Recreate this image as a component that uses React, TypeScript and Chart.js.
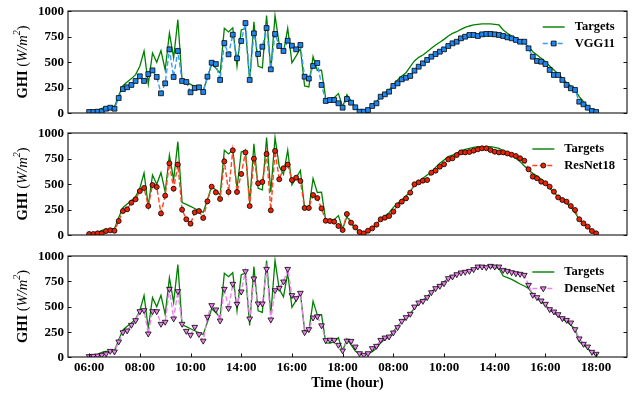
import React, { useEffect, useRef } from "react";
import { Chart, registerables } from "chart.js";

Chart.register(...registerables);

// ---------- data ----------
const tickIndex = [0, 12, 24, 36, 48, 60, 72, 84, 96, 108, 120];
const tickLabels = ["06:00", "08:00", "10:00", "14:00", "16:00", "18:00", "08:00", "10:00", "14:00", "16:00", "18:00"];
const yTicks = [0, 250, 500, 750, 1000];

// shared targets, first day (index 0..63)
const targetsDay1 = [
  5, 10, 25, 45, 55, 58, 62, 172, 268, 304,
  337, 376, 458, 608, 285, 588, 497, 611, 422, 784,
  540, 915, 318, 300, 280, 260, 240, 222, 345, 478,
  440, 390, 830, 795, 835, 458, 815, 830, 312, 895,
  458, 442, 955, 420, 955, 670, 595, 832, 492, 560,
  632, 265, 255, 553, 417, 420, 140, 137, 150, 190,
  60, 180, 120, 60,
];

// targets second day (index 64..120) per panel
const targetsDay2Vgg = [
  13, 13, 36, 69, 111, 160, 199, 225, 275, 324,
  363, 395, 454, 510, 546, 569, 601, 634, 667, 693,
  722, 755, 781, 797, 820, 840, 853, 863, 869, 873,
  873, 873, 869, 863, 814, 781, 755, 732, 709, 683,
  650, 601, 569, 536, 503, 461, 422, 382, 340, 297,
  265, 226, 160, 111, 62, 23, 7,
];
const targetsDay2Res = [
  39, 16, 33, 65, 108, 154, 186, 219, 271, 310,
  343, 382, 425, 490, 523, 556, 588, 621, 663, 703,
  735, 768, 784, 801, 827, 840, 850, 859, 866, 866,
  866, 866, 859, 850, 827, 807, 784, 752, 719, 676,
  637, 605, 578, 546, 507, 458, 415, 376, 343, 310,
  271, 219, 154, 114, 75, 33, 16,
];
const targetsDay2Dense = [
  30, 20, 30, 53, 86, 142, 175, 201, 251, 307,
  350, 383, 432, 482, 531, 564, 597, 647, 680, 713,
  746, 779, 795, 822, 835, 848, 855, 868, 888, 894,
  894, 894, 888, 878, 802, 785, 769, 746, 723, 703,
  680, 624, 581, 548, 515, 465, 439, 406, 373, 350,
  317, 274, 152, 119, 86, 43, 20,
];

const vgg11 = [
  10, 10, 13, 16, 42, 52, 42, 147, 235, 252,
  275, 314, 360, 314, 382, 418, 353, 193, 291, 624,
  353, 608, 314, 304, 203, 245, 252, 206, 356, 493,
  480, 324, 686, 575, 768, 536, 706, 882, 324, 781,
  578, 650, 833, 428, 775, 657, 608, 709, 660, 624,
  667, 356, 337, 461, 490, 275, 118, 127, 127, 95,
  52, 137, 101, 56, 13, 13, 29, 69, 95, 160,
  183, 209, 265, 291, 330, 346, 363, 415, 454, 487,
  520, 552, 578, 601, 624, 657, 683, 699, 732, 748,
  765, 765, 755, 771, 775, 775, 771, 765, 755, 742,
  732, 716, 699, 699, 634, 552, 510, 503, 480, 422,
  373, 373, 324, 275, 242, 226, 111, 85, 52, 20,
  10,
];

const resnet18 = [
  10, 10, 16, 16, 39, 46, 42, 137, 235, 252,
  317, 350, 431, 461, 284, 490, 471, 212, 386, 703,
  454, 690, 248, 154, 111, 222, 235, 167, 330, 474,
  418, 353, 722, 422, 830, 422, 598, 810, 284, 748,
  507, 520, 794, 242, 824, 546, 654, 690, 539, 562,
  529, 265, 265, 392, 362, 261, 140, 137, 131, 88,
  49, 206, 121, 75, 29, 16, 42, 65, 101, 154,
  170, 186, 229, 291, 327, 359, 415, 497, 516, 533,
  539, 611, 631, 670, 693, 742, 752, 784, 810, 810,
  814, 827, 840, 850, 850, 833, 817, 810, 810, 800,
  787, 774, 752, 729, 644, 572, 556, 523, 507, 474,
  425, 369, 343, 327, 284, 245, 154, 114, 82, 39,
  16,
];

const densenet = [
  7, 10, 13, 20, 33, 59, 53, 152, 244, 261,
  317, 363, 452, 462, 231, 452, 452, 327, 347, 673,
  380, 650, 327, 257, 218, 297, 225, 160, 396, 512,
  469, 360, 673, 482, 723, 525, 647, 848, 380, 776,
  528, 528, 871, 370, 660, 683, 746, 871, 611, 581,
  634, 244, 274, 389, 401, 312, 165, 170, 168, 119,
  63, 160, 158, 102, 36, 20, 36, 86, 109, 168,
  191, 201, 241, 294, 356, 393, 426, 498, 538, 554,
  591, 640, 680, 703, 729, 779, 795, 818, 835, 842,
  851, 868, 894, 894, 888, 901, 894, 894, 861, 851,
  838, 828, 822, 812, 713, 614, 591, 558, 525, 472,
  449, 422, 383, 366, 340, 274, 182, 129, 102, 50,
  30,
];

// ---------- drawing helpers ----------
const SERIF = '"Liberation Serif", "Times New Roman", serif';

type Spec = {
  name: string;
  preds: number[];
  targets: number[];
  lineColor: string;
  fillColor: string;
  pointStyle: "rect" | "circle" | "triangle";
  radius: number;
  rotation: number;
  top: number;
  height: number;
  padTop: number;
  padBottom: number;
  showX: boolean;
};

function drawMarker(ctx: CanvasRenderingContext2D, s: Spec, x: number, y: number) {
  ctx.beginPath();
  const r = s.radius;
  if (s.pointStyle === "rect") {
    const h = Math.SQRT1_2 * r;
    ctx.rect(x - h, y - h, 2 * h, 2 * h);
  } else if (s.pointStyle === "circle") {
    ctx.arc(x, y, r, 0, Math.PI * 2);
  } else {
    let rad = (s.rotation * Math.PI) / 180;
    ctx.moveTo(x + Math.sin(rad) * r, y - Math.cos(rad) * r);
    rad += (2 * Math.PI) / 3;
    ctx.lineTo(x + Math.sin(rad) * r, y - Math.cos(rad) * r);
    rad += (2 * Math.PI) / 3;
    ctx.lineTo(x + Math.sin(rad) * r, y - Math.cos(rad) * r);
    ctx.closePath();
  }
  ctx.fillStyle = s.fillColor;
  ctx.fill();
  ctx.strokeStyle = "#000";
  ctx.lineWidth = 0.8;
  ctx.stroke();
}

function overlayPlugin(s: Spec) {
  return {
    id: "overlay",
    afterDraw(chart: any) {
      const ctx: CanvasRenderingContext2D = chart.ctx;
      const a = chart.chartArea;
      const xs = chart.scales.x;
      const ys = chart.scales.y;
      ctx.save();
      // frame
      ctx.strokeStyle = "#111";
      ctx.lineWidth = 1.1;
      ctx.strokeRect(a.left, a.top, a.right - a.left, a.bottom - a.top);

      // y ticks (inward, both sides) + labels
      ctx.lineWidth = 1;
      ctx.fillStyle = "#000";
      ctx.font = `bold 13px ${SERIF}`;
      ctx.textAlign = "right";
      ctx.textBaseline = "middle";
      yTicks.forEach((v) => {
        const y = Math.round(ys.getPixelForValue(v)) + 0.5;
        ctx.beginPath();
        ctx.moveTo(a.left, y);
        ctx.lineTo(a.left + 3.5, y);
        ctx.moveTo(a.right - 3.5, y);
        ctx.lineTo(a.right, y);
        ctx.stroke();
        ctx.fillText(String(v), a.left - 4, ys.getPixelForValue(v) + 0.5);
      });

      // x ticks + labels
      if (s.showX) {
        ctx.textAlign = "center";
        ctx.textBaseline = "top";
        tickIndex.forEach((idx, k) => {
          const x = Math.round(xs.getPixelForValue(idx)) + 0.5;
          ctx.beginPath();
          ctx.moveTo(x, a.bottom);
          ctx.lineTo(x, a.bottom - 3.5);
          ctx.stroke();
          ctx.fillText(tickLabels[k], xs.getPixelForValue(idx), a.bottom + 4);
        });
        ctx.font = `bold 14px ${SERIF}`;
        ctx.textBaseline = "middle";
        ctx.fillText("Time (hour)", (a.left + a.right) / 2, a.bottom + 26);
      }

      // y axis label: GHI (W/m^2)
      const parts = [
        { t: "GHI ", f: `bold 14.5px ${SERIF}`, dy: 0 },
        { t: "(", f: `14.5px ${SERIF}`, dy: 0 },
        { t: "W/m", f: `italic 14.5px ${SERIF}`, dy: 0 },
        { t: "2", f: `italic 10px ${SERIF}`, dy: -6 },
        { t: ")", f: `14.5px ${SERIF}`, dy: 0 },
      ];
      let total = 0;
      parts.forEach((p) => {
        ctx.font = p.f;
        total += ctx.measureText(p.t).width;
      });
      ctx.save();
      ctx.translate(23, (a.top + a.bottom) / 2);
      ctx.rotate(-Math.PI / 2);
      ctx.textAlign = "left";
      ctx.textBaseline = "middle";
      let cx = -total / 2;
      parts.forEach((p) => {
        ctx.font = p.f;
        ctx.fillText(p.t, cx, p.dy);
        cx += ctx.measureText(p.t).width;
      });
      ctx.restore();

      // legend
      ctx.font = `bold 12.5px ${SERIF}`;
      ctx.textAlign = "left";
      ctx.textBaseline = "middle";
      const w = Math.max(ctx.measureText("Targets").width, ctx.measureText(s.name).width);
      const tx = a.right - 12 - w;
      const l0 = tx - 32;
      const l1 = tx - 10;
      const r1 = a.top + 16;
      const r2 = a.top + 32.5;
      ctx.strokeStyle = "#008000";
      ctx.lineWidth = 1.4;
      ctx.beginPath();
      ctx.moveTo(l0, r1);
      ctx.lineTo(l1, r1);
      ctx.stroke();
      ctx.strokeStyle = s.lineColor;
      ctx.setLineDash([5, 2.5]);
      ctx.beginPath();
      ctx.moveTo(l0, r2);
      ctx.lineTo(l1, r2);
      ctx.stroke();
      ctx.setLineDash([]);
      drawMarker(ctx, s, (l0 + l1) / 2, r2);
      ctx.fillStyle = "#000";
      ctx.fillText("Targets", tx, r1);
      ctx.fillText(s.name, tx, r2);
      ctx.restore();
    },
  };
}

function Panel({ s }: { s: Spec }) {
  const ref = useRef<HTMLCanvasElement>(null);
  useEffect(() => {
    const chart = new Chart(ref.current as HTMLCanvasElement, {
      type: "line",
      data: {
        datasets: [
          {
            label: s.name,
            data: s.preds.map((y, i) => ({ x: i, y })),
            borderColor: s.lineColor,
            borderWidth: 1.4,
            borderDash: [5, 2.5],
            pointStyle: s.pointStyle,
            pointRadius: s.radius,
            pointRotation: s.rotation,
            pointBackgroundColor: s.fillColor,
            pointBorderColor: "#000",
            pointBorderWidth: 0.8,
            tension: 0,
            order: 1,
          } as any,
          {
            label: "Targets",
            data: s.targets.map((y, i) => ({ x: i, y })),
            borderColor: "#008000",
            borderWidth: 1.3,
            pointRadius: 0,
            tension: 0,
            order: 2,
          },
        ],
      },
      options: {
        animation: false,
        responsive: false,
        events: [],
        layout: { padding: { left: 68, right: 17, top: s.padTop, bottom: s.padBottom } },
        scales: {
          x: { type: "linear", min: -5, max: 127.3, display: false },
          y: { type: "linear", min: 0, max: 1000, display: false },
        },
        plugins: { legend: { display: false }, tooltip: { enabled: false } },
      },
      plugins: [overlayPlugin(s)],
    });
    return () => chart.destroy();
  }, []);
  return (
    <canvas
      ref={ref}
      width={644}
      height={s.height}
      style={{ position: "absolute", left: 0, top: s.top, width: 644, height: s.height }}
    />
  );
}

const specs: Spec[] = [
  {
    name: "VGG11",
    preds: vgg11,
    targets: targetsDay1.concat(targetsDay2Vgg),
    lineColor: "#3a9bff",
    fillColor: "#1e88f0",
    pointStyle: "rect",
    radius: 3.4,
    rotation: 0,
    top: 0,
    height: 122,
    padTop: 11,
    padBottom: 9,
    showX: false,
  },
  {
    name: "ResNet18",
    preds: resnet18,
    targets: targetsDay1.concat(targetsDay2Res),
    lineColor: "#ff4422",
    fillColor: "#ee2200",
    pointStyle: "circle",
    radius: 2.5,
    rotation: 0,
    top: 122,
    height: 122,
    padTop: 11,
    padBottom: 9,
    showX: false,
  },
  {
    name: "DenseNet",
    preds: densenet,
    targets: targetsDay1.concat(targetsDay2Dense),
    lineColor: "#ee82ee",
    fillColor: "#ee82ee",
    pointStyle: "triangle",
    radius: 3.3,
    rotation: 180,
    top: 244,
    height: 150,
    padTop: 12,
    padBottom: 37,
    showX: true,
  },
];

export default function App() {
  return (
    <div style={{ position: "absolute", left: 0, top: 0, width: 644, height: 394, background: "#fff" }}>
      {specs.map((s) => (
        <Panel key={s.name} s={s} />
      ))}
    </div>
  );
}
